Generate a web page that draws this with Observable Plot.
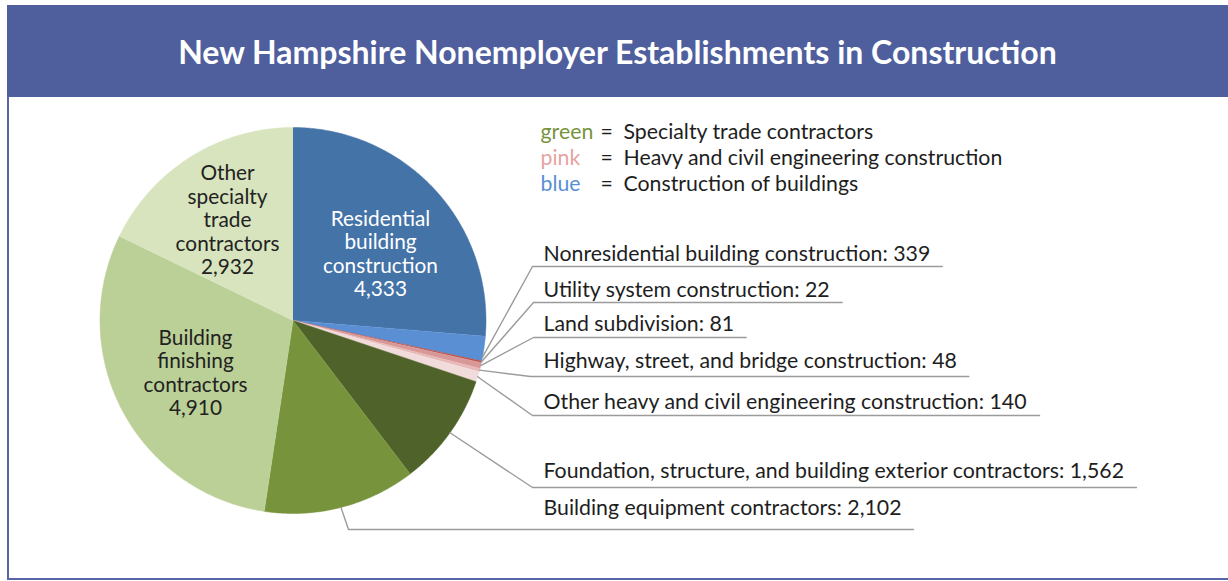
<!DOCTYPE html>
<html><head><meta charset="utf-8">
<script src="https://cdn.jsdelivr.net/npm/d3@7"></script>
<script src="https://cdn.jsdelivr.net/npm/@observablehq/plot@0.6"></script>
<style>
body{margin:0;background:#fff;}
#wrap{position:relative;width:1228px;height:581px;overflow:hidden;background:#fff;}
#banner{position:absolute;left:7px;top:5px;width:1221px;height:92px;background:#4F5F9E;color:#fff;
  font-family:Lato,sans-serif;font-weight:bold;font-size:32px;display:flex;align-items:center;justify-content:center;}
#frameL{position:absolute;left:7px;top:97px;width:2px;height:483px;background:#5866A8;}
#frameB{position:absolute;left:7px;top:578px;width:1221px;height:2px;background:#5866A8;}
#chart{position:absolute;left:0;top:97px;}
</style></head>
<body>
<div id="wrap">
  <div id="banner">New Hampshire Nonemployer Establishments in Construction</div>
  <div id="frameL"></div>
  <div id="frameB"></div>
  <div id="chart"></div>
</div>
<script>
// ---- data ----
const categories = [
  "Residential building construction",
  "Nonresidential building construction",
  "Utility system construction",
  "Land subdivision",
  "Highway, street, and bridge construction",
  "Other heavy and civil engineering construction",
  "Foundation, structure, and building exterior contractors",
  "Building equipment contractors",
  "Building finishing contractors",
  "Other specialty trade contractors"
];
const values = [4333, 339, 22, 81, 48, 140, 1562, 2102, 4910, 2932];
const sliceColors = ["#4473A8","#5A8FD3","#B5514F","#D99795","#E6B9B8","#F2DCDB","#4F6229","#77933C","#BBD096","#D7E4BD"];
const legendNames = ["green", "pink", "blue"];
const legendTexts = ["Specialty trade contractors", "Heavy and civil engineering construction", "Construction of buildings"];
const legendColors = ["#77933C", "#E6A3A1", "#5A8FD3"];

// ---- layout (pixels, page coordinates) ----
const CX = 292.5, CY = 320, R = 193;
const FS = 21.3, FS_IN = 20.8;
const insideIdx = [0, 9, 8];
const insidePos = [[380, 253, "#fff"], [227, 219, "#222"], [195, 372, "#222"]];
const outsideIdx = [1, 2, 3, 4, 5, 6, 7];
const anchorFrac = [0.85, 0.5, 0.5, 0.5, 0.5, 0.5, 0.5];
const outTextY = [254, 290, 324, 361, 402, 471, 508];
const outLineY = [266, 302, 337, 376, 415, 487, 529];
const outLineX = [532, 533, 533, 530, 532, 532, 348];
const TEXT_X = 543;
const legendY = [131.5, 158, 184];

const fmt = d3.format(",");
const arcs = d3.pie().sort(null).value(d => d)(values);

// slice polygons
const pts = [];
arcs.forEach((a, i) => {
  const n = Math.max(2, Math.ceil((a.endAngle - a.startAngle) / (Math.PI / 360)));
  pts.push({name: categories[i], x: CX, y: CY});
  for (let k = 0; k <= n; k++) {
    const t = a.startAngle + (a.endAngle - a.startAngle) * k / n;
    pts.push({name: categories[i], x: CX + R * Math.sin(t), y: CY - R * Math.cos(t)});
  }
});

// text measuring for underline length
const ctx = document.createElement("canvas").getContext("2d");
ctx.font = `${FS}px Lato`;

const outLabels = [], leaders = [];
outsideIdx.forEach((i, j) => {
  const a = arcs[i];
  const t = a.startAngle + (a.endAngle - a.startAngle) * anchorFrac[j];
  const txt = `${categories[i]}: ${fmt(values[i])}`;
  outLabels.push({x: TEXT_X, y: outTextY[j], text: txt});
  const w = ctx.measureText(txt).width;
  leaders.push({k: j, x: CX + R * Math.sin(t), y: CY - R * Math.cos(t)});
  leaders.push({k: j, x: outLineX[j], y: outLineY[j]});
  leaders.push({k: j, x: TEXT_X + w + 12, y: outLineY[j]});
});

const inLabels = insideIdx.map((i, j) => ({
  x: insidePos[j][0], y: insidePos[j][1], c: insidePos[j][2],
  text: categories[i].split(" ").join("\n") + "\n" + fmt(values[i])
}));

const legend = legendNames.map((n, j) => ({n, t: legendTexts[j], c: legendColors[j], y: legendY[j]}));

const chart = Plot.plot({
  width: 1228, height: 484, margin: 0,
  x: {domain: [0, 1228], range: [0, 1228], axis: null},
  y: {domain: [97, 581], range: [0, 484], axis: null},
  color: {domain: categories, range: sliceColors},
  style: {fontFamily: "Lato, sans-serif", background: "transparent"},
  marks: [
    Plot.line(pts, {x: "x", y: "y", z: "name", fill: "name", stroke: "name", strokeWidth: 0.5, curve: "linear"}),
    Plot.line(leaders, {x: "x", y: "y", z: "k", stroke: "#9B9B9B", strokeWidth: 1.4, curve: "linear"}),
    Plot.text(outLabels, {x: "x", y: "y", text: "text", textAnchor: "start", fontSize: FS, fill: "#1E1E1E"}),
    Plot.text(inLabels, {x: "x", y: "y", text: "text", fill: "c", fontSize: FS_IN, lineHeight: 1.13, textAnchor: "middle"}),
    Plot.text(legend, {x: 540, y: "y", text: "n", fill: "c", fontSize: FS, textAnchor: "start"}),
    Plot.text(legend, {x: 600, y: "y", text: () => "=", fill: "#1E1E1E", fontSize: FS, textAnchor: "start"}),
    Plot.text(legend, {x: 623, y: "y", text: "t", fill: "#1E1E1E", fontSize: FS, textAnchor: "start"})
  ]
});
document.getElementById("chart").appendChild(chart);
</script>
</body></html>
